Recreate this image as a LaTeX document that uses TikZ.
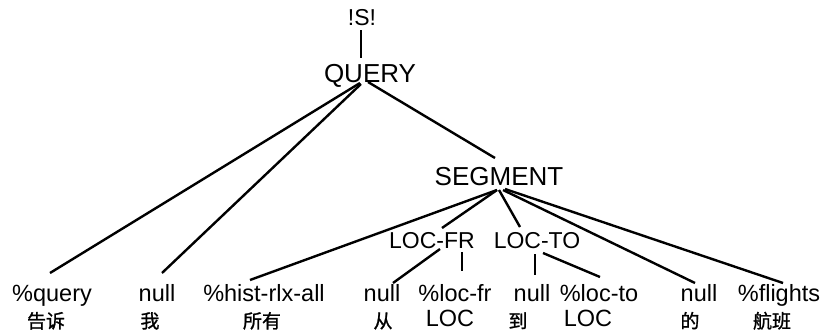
\documentclass[tikz,border=0pt]{standalone}
\usepackage{fontspec}
\setmainfont{Liberation Sans}
\newfontfamily\cjk[FakeBold=1.2]{Noto Sans CJK SC}
\usetikzlibrary{calc}
\tikzset{
  lbl/.style={inner sep=0pt, anchor=base},
  big/.style={lbl, font=\fontsize{26}{26}\selectfont},
  mid/.style={lbl, font=\fontsize{23}{23}\selectfont},
  leaf/.style={lbl, font=\fontsize{23.5}{23.5}\selectfont},
  hz/.style={lbl, font=\cjk\fontsize{19}{19}\selectfont},
  edge/.style={line width=2.4pt},
}
\begin{document}
\begin{tikzpicture}[x=1pt, y=-1pt]
\useasboundingbox (0,0) rectangle (824,332);
\fill[white] (0,0) rectangle (824,332);

% internal nodes
\node[mid] (s) at (362,25) {!S!};
\node[big] (query) at (370,82) {QUERY};
\node[big] (seg) at (499,185) {SEGMENT};
\node[mid] (locfr) at (432,248) {LOC-FR};
\node[mid] (locto) at (537,248) {LOC-TO};

% leaves: tag row
\node[leaf] (q1) at (52,301) {\%query};
\node[leaf] (n1) at (157,301) {null};
\node[leaf] (hist) at (264,301) {\%hist-rlx-all};
\node[leaf] (n2) at (382,301) {null};
\node[leaf] (lfr) at (455,301) {\%loc-fr};
\node[leaf] (n3) at (532,301) {null};
\node[leaf] (lto) at (599,301) {\%loc-to};
\node[leaf] (n4) at (699,301) {null};
\node[leaf] (fl) at (779,301) {\%flights};

% leaves: word row
\node[hz] (w1) at (46,328) {告诉};
\node[hz] (w2) at (150,328) {我};
\node[hz] (w3) at (262,328) {所有};
\node[hz] (w4) at (383,328) {从};
\node[leaf] (w5) at (450,326) {LOC};
\node[hz] (w6) at (518,328) {到};
\node[leaf] (w7) at (588,326) {LOC};
\node[hz] (w8) at (690,328) {的};
\node[hz] (w9) at (772,328) {航班};

% tree edges
\draw[edge] ($(s.base)+(-1,5)$) -- ($(query.base)+(-9,-24)$);
\draw[edge] ($(query.base)+(-10,1)$) -- ($(q1.base)+(-2,-28)$);
\draw[edge] ($(query.base)+(-9,2)$) -- ($(n1.base)+(5,-28)$);
\draw[edge] ($(query.base)+(-2,0)$) -- ($(seg.base)+(-4,-27)$);
\draw[edge] ($(seg.base)+(-2,5)$) -- ($(hist.base)+(-14,-21)$);
\draw[edge] ($(seg.base)+(-2,5)$) -- ($(locfr.base)+(10,-20)$);
\draw[edge] ($(seg.base)+(0,5)$) -- ($(locto.base)+(-17,-21)$);
\draw[edge] ($(seg.base)+(4,5)$) -- ($(n4.base)+(-4,-18)$);
\draw[edge] ($(seg.base)+(6,4)$) -- ($(fl.base)+(4,-18)$);
\draw[edge] ($(locfr.base)+(8,1)$) -- ($(n2.base)+(11,-18)$);
\draw[edge] ($(locfr.base)+(30,4)$) -- ($(lfr.base)+(7,-30)$);
\draw[edge] ($(locto.base)+(-2,6)$) -- ($(n3.base)+(3,-26)$);
\draw[edge] ($(locto.base)+(6,5)$) -- ($(lto.base)+(1,-24)$);
\end{tikzpicture}
\end{document}
